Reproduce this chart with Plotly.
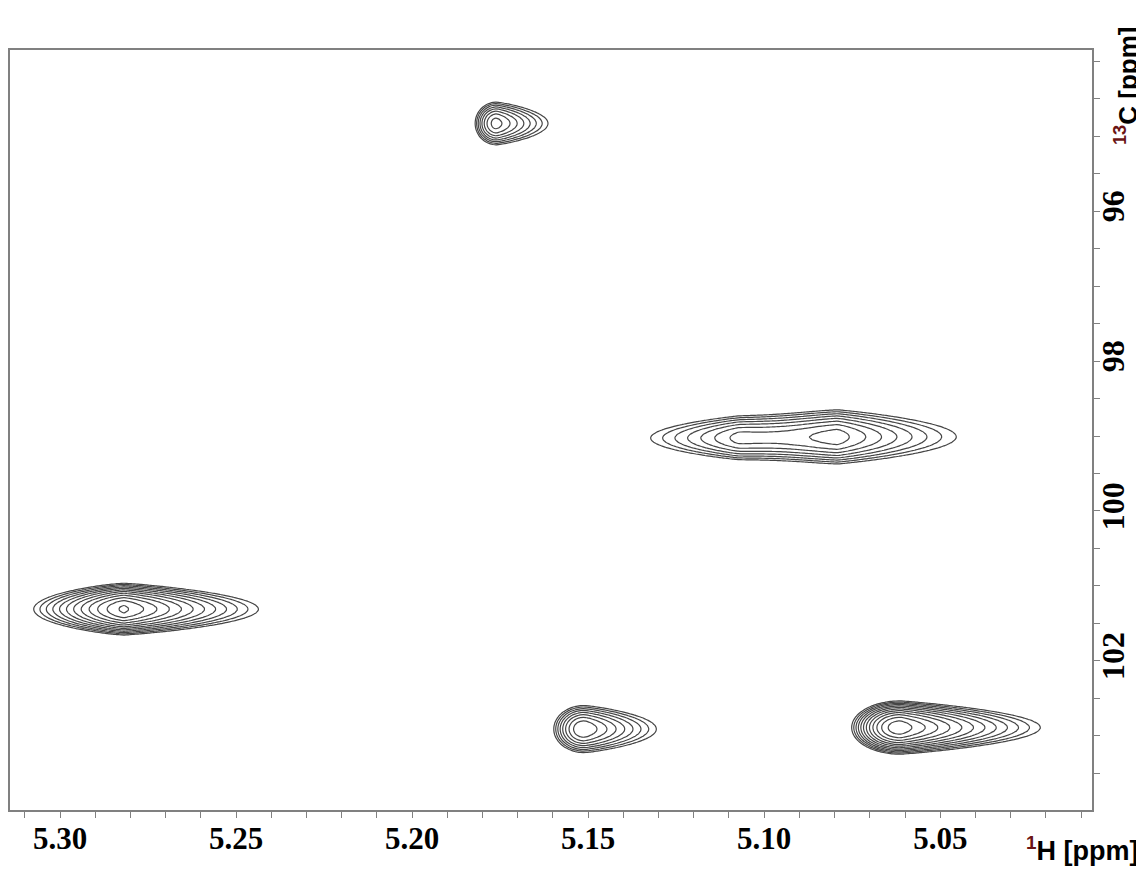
import numpy as np
import plotly.graph_objects as go

# ---- peak data ----
peak_h = [5.1760, 5.1073, 5.0791, 5.2819, 5.1511, 5.0613]      # 1H centre (ppm)
peak_c = [94.83, 99.03, 99.01, 101.31, 102.91, 102.89]          # 13C centre (ppm)
peak_levels = [1.55, 1.0, 1.45, 2.3, 1.65, 2.4]                 # log-intensity above base level
half_left = [0.0062, 0.022, 0.030, 0.0260, 0.0088, 0.0140]      # extent toward higher 1H ppm
half_right = [0.0150, 0.020, 0.034, 0.0390, 0.0210, 0.0405]     # extent toward lower 1H ppm
shape_left = [2.0, 1.2, 1.3, 1.3, 2.0, 2.0]
shape_right = [1.2, 1.3, 1.1, 1.15, 1.2, 1.1]
half_c = [0.29, 0.24, 0.36, 0.35, 0.32, 0.36]                    # 13C half extent

x_ticks = [5.30, 5.25, 5.20, 5.15, 5.10, 5.05]
y_ticks = [96, 98, 100, 102]
x_range = [5.3142, 5.0069]
y_range = [93.85, 103.99]

# ---- grid ----
xg = np.arange(5.0050, 5.3160, 0.0008)
yg = np.arange(93.80, 104.05, 0.035)
X, Y = np.meshgrid(xg, yg)
Z = np.zeros_like(X)
for h0, c0, L, eL, eR, pL, pR, eY in zip(peak_h, peak_c, peak_levels, half_left,
                                         half_right, shape_left, shape_right, half_c):
    dx = X - h0
    rx = np.where(dx > 0, (np.abs(dx) / eL) ** pL, (np.abs(dx) / eR) ** pR)
    ry = (np.abs(Y - c0) / eY) ** 2
    Z += np.exp(L * (1.0 - rx - ry))
Zlog = np.log(np.maximum(Z, 1e-12))
Zlog = np.round(Zlog, 3)

line_col = "#454545"
fig = go.Figure()
fig.add_trace(go.Contour(
    x=np.round(xg, 5), y=np.round(yg, 4), z=Zlog,
    contours=dict(start=0.05, end=3.0, size=0.2, coloring="lines"),
    line=dict(color=line_col, width=1.2),
    colorscale=[[0, line_col], [1, line_col]],
    showscale=False, hoverinfo="skip",
))

# page body has an 8px default margin -> figure sits at (8, 8)
OFF = 8
W, H = 1144 - OFF, 870 - OFF
ml, mr, mt, mb = 10 - OFF, 52, 50 - OFF, 60
pw, ph = W - ml - mr, H - mt - mb


def px(page_x):
    return (page_x - OFF - ml) / pw


def py(page_y):
    return (H - mb - (page_y - OFF)) / ph


fig.update_layout(
    width=W, height=H,
    margin=dict(l=ml, r=mr, t=mt, b=mb, autoexpand=False),
    paper_bgcolor="white", plot_bgcolor="white",
    showlegend=False,
    xaxis=dict(
        range=x_range, showgrid=False, zeroline=False, automargin=False,
        showline=True, linecolor="#808080", linewidth=1.5, mirror=True,
        tickmode="array", tickvals=x_ticks, ticktext=[f"{v:.2f}" for v in x_ticks],
        ticks="outside", ticklen=6, tickcolor="#808080", tickwidth=1.2,
        minor=dict(dtick=0.01, tick0=5.0, ticks="outside", ticklen=6,
                   tickcolor="#808080", tickwidth=1.2, showgrid=False),
        ticklabelstandoff=-6,
        tickfont=dict(family="Liberation Serif", size=31, color="black", weight="bold"),
    ),
    yaxis=dict(
        range=[y_range[1], y_range[0]], side="right", showgrid=False, zeroline=False,
        automargin=False,
        showline=True, linecolor="#808080", linewidth=1.5, mirror=True,
        tickmode="array", tickvals=y_ticks, ticktext=[str(v) for v in y_ticks],
        ticks="outside", ticklen=6, tickcolor="#808080", tickwidth=1.2,
        minor=dict(dtick=0.5, tick0=0, ticks="outside", ticklen=6,
                   tickcolor="#808080", tickwidth=1.2, showgrid=False),
        tickangle=-90, ticklabelstandoff=-14,
        tickfont=dict(family="Liberation Serif", size=32, color="black", weight="bold"),
    ),
)

sup_color = "#6b1414"
fig.add_annotation(
    xref="paper", yref="paper",
    x=px(1141), y=py(849),
    xanchor="right", yanchor="middle",
    text=f"<sup><span style='color:{sup_color}'>1</span></sup>H [ppm]",
    showarrow=False,
    font=dict(family="Liberation Sans", size=27, color="black", weight="bold"),
)
fig.add_annotation(
    xref="paper", yref="paper",
    x=px(1126), y=py(86),
    xanchor="center", yanchor="middle", textangle=-90,
    text=f"<sup><span style='color:{sup_color}'>13</span></sup>C [ppm]",
    showarrow=False,
    font=dict(family="Liberation Sans", size=26, color="black", weight="bold"),
)

fig.write_html("out.html")
